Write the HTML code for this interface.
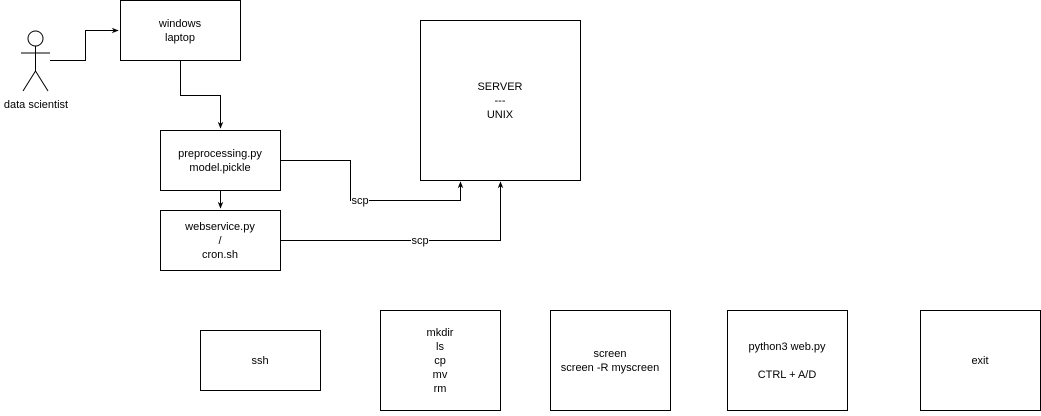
<!DOCTYPE html>
<html><head><style>
body{margin:0;background:#fff;width:1041px;height:411px;overflow:hidden;font-family:"Liberation Sans",Helvetica,sans-serif;}
</style></head><body>
<svg width="1041" height="411" xmlns="http://www.w3.org/2000/svg" font-family="Liberation Sans, Helvetica, sans-serif" font-size="11">
<defs><marker id="a" viewBox="0 0 10 10" refX="9" refY="5" markerWidth="7" markerHeight="7" orient="auto"><path d="M0,1 L10,5 L0,9 L3,5 Z" fill="#000"/></marker></defs>
<g fill="#fff" stroke="#000" stroke-width="1">
<rect x="120.5" y="0.5" width="120" height="60"/>
<rect x="160.5" y="130.5" width="120" height="60"/>
<rect x="160.5" y="210.5" width="120" height="60"/>
<rect x="420.5" y="20.5" width="160" height="160"/>
<rect x="200.5" y="330.5" width="120" height="60"/>
<rect x="380.5" y="310.5" width="120" height="100"/>
<rect x="550.5" y="310.5" width="120" height="100"/>
<rect x="727.5" y="310.5" width="120" height="100"/>
<rect x="920.5" y="310.5" width="120" height="100"/>
</g>
<g fill="none" stroke="#000" stroke-width="1">
<circle cx="35.5" cy="38.5" r="7.5" fill="#fff"/>
<path d="M35.5 46 V71 M21 53 H50 M35.5 71 L23 91 M35.5 71 L48 91"/>
<path d="M50 60.5 H85.5 V30.5 H118" marker-end="url(#a)"/>
<path d="M180.5 60 V95.5 H220.5 V128" marker-end="url(#a)"/>
<path d="M220.5 190 V208" marker-end="url(#a)"/>
<path d="M280 160.5 H350.5 V200.5 H460.5 V182" marker-end="url(#a)"/>
<path d="M280 240.5 H500.5 V182" marker-end="url(#a)"/>
</g>
<g text-anchor="middle" fill="#000">
<text x="36" y="108">data scientist</text>
<text x="180" y="27">windows</text><text x="180" y="41">laptop</text>
<text x="220" y="157">preprocessing.py</text><text x="220" y="171">model.pickle</text>
<text x="220" y="230">webservice.py</text><text x="220" y="244">/</text><text x="220" y="258">cron.sh</text>
<text x="500" y="90">SERVER</text><text x="500" y="104">---</text><text x="500" y="118">UNIX</text>
<rect x="351" y="195" width="18" height="11" fill="#fff"/><text x="360" y="204">scp</text>
<rect x="411" y="235" width="18" height="11" fill="#fff"/><text x="420" y="244">scp</text>
<text x="260" y="364">ssh</text>
<text x="440" y="336">mkdir</text><text x="440" y="350">ls</text><text x="440" y="364">cp</text><text x="440" y="378">mv</text><text x="440" y="392">rm</text>
<text x="610" y="357">screen</text><text x="610" y="371">screen -R myscreen</text>
<text x="787" y="350">python3 web.py</text><text x="787" y="378">CTRL + A/D</text>
<text x="980" y="364">exit</text>
</g>
</svg>
</body></html>
